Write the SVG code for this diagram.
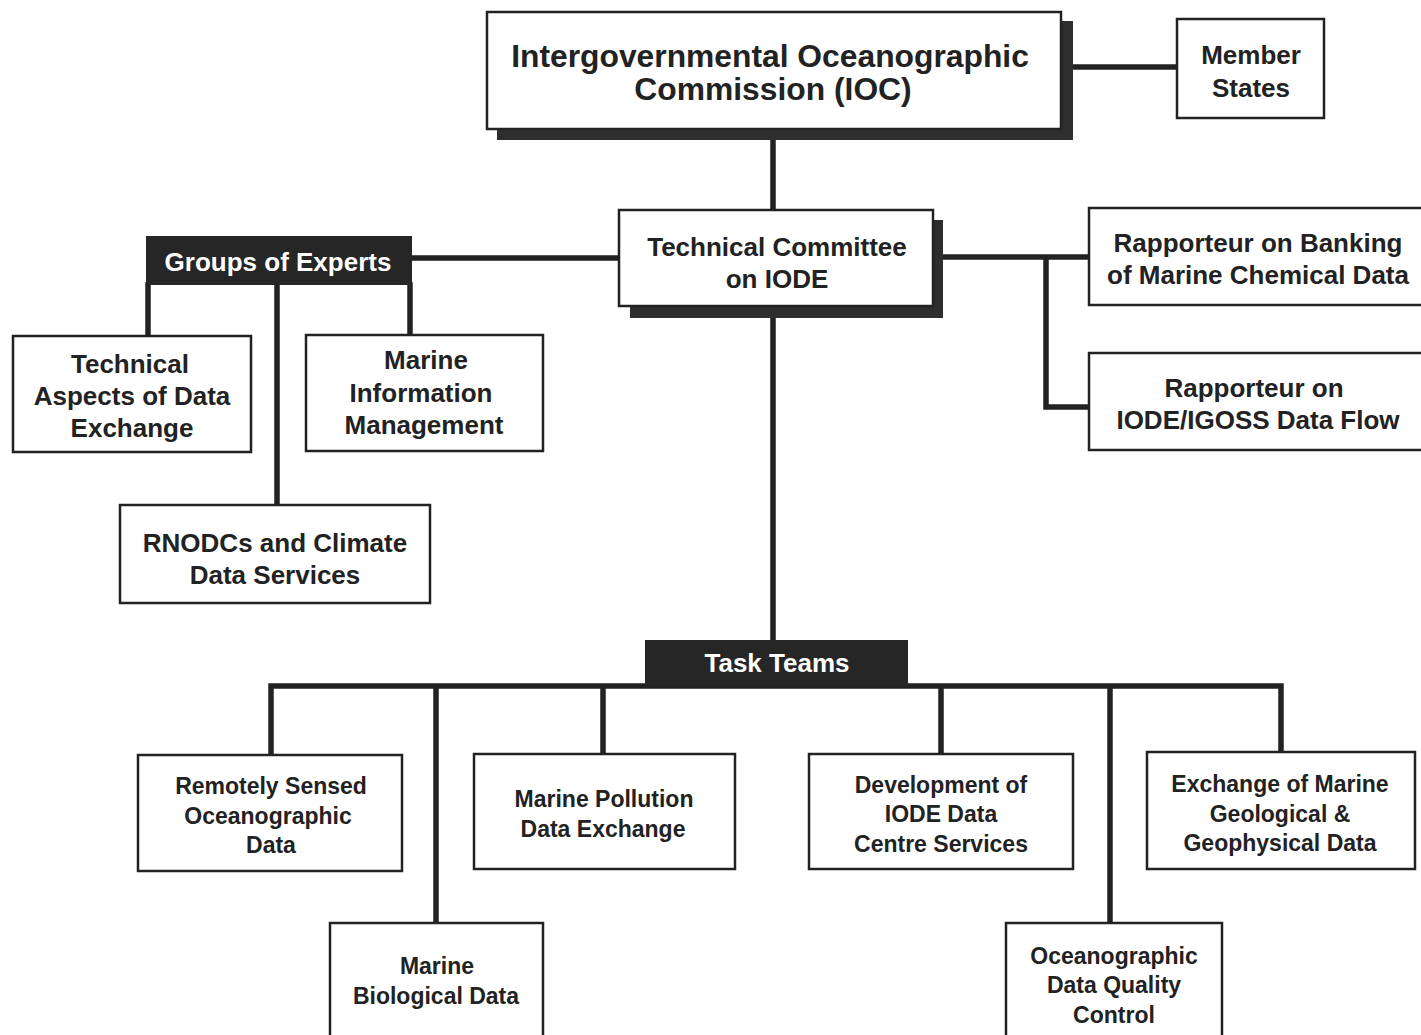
<svg xmlns="http://www.w3.org/2000/svg" width="1421" height="1035" viewBox="0 0 1421 1035">
<style>
.box{fill:#fff;stroke:#222;stroke-width:2.5}
.shadow{fill:#2e2e2e}
.dark{fill:#262626}
.conn{stroke:#222;stroke-width:5.5;fill:none;stroke-linejoin:miter;stroke-linecap:square}
text{font-family:"Liberation Sans",Arial,Helvetica,sans-serif;font-weight:bold;fill:#222;text-anchor:middle}
.t31{font-size:31.8px}
.t26{font-size:26px}
.t23{font-size:23px}
.w{fill:#fff}
</style>
<rect width="1421" height="1035" fill="#fff"/>
<g id="connectors">
<path class="conn" d="M773 140 V210"/>
<path class="conn" d="M1073 67 H1177"/>
<path class="conn" d="M412 258 H619"/>
<path class="conn" d="M943 257 H1089 M1046 257 V407 H1089"/>
<path class="conn" d="M148 285 V336 M277 285 V505 M410 285 V335"/>
<path class="conn" d="M773 318 V640"/>
<path class="conn" d="M271 755 V686 H1281 V752 M436 686 V923 M603 686 V754 M941 686 V754 M1110 686 V923"/>
</g>
<g id="ioc">
<rect class="shadow" x="497" y="21" width="576" height="119"/>
<rect class="box" x="487" y="12" width="574" height="117"/>
<text class="t31" x="770" y="67">Intergovernmental Oceanographic</text>
<text class="t31" x="773" y="100">Commission (IOC)</text>
</g>
<g id="member-states">
<rect class="box" x="1177" y="19" width="147" height="99"/>
<text class="t26" x="1251" y="64">Member</text>
<text class="t26" x="1251" y="97">States</text>
</g>
<g id="tc-iode">
<rect class="shadow" x="630" y="220" width="313" height="98"/>
<rect class="box" x="619" y="210" width="314" height="96"/>
<text class="t26" x="777" y="256">Technical Committee</text>
<text class="t26" x="777" y="288">on IODE</text>
</g>
<g id="groups-of-experts">
<rect class="dark" x="146" y="236" width="266" height="49"/>
<text class="t26 w" x="278" y="271">Groups of Experts</text>
</g>
<g id="technical-aspects">
<rect class="box" x="13" y="336" width="238" height="116"/>
<text class="t26" x="130" y="373">Technical</text>
<text class="t26" x="132" y="405">Aspects of Data</text>
<text class="t26" x="132" y="437">Exchange</text>
</g>
<g id="marine-information">
<rect class="box" x="306" y="335" width="237" height="116"/>
<text class="t26" x="426" y="369">Marine</text>
<text class="t26" x="421" y="402">Information</text>
<text class="t26" x="424" y="434">Management</text>
</g>
<g id="rnodcs">
<rect class="box" x="120" y="505" width="310" height="98"/>
<text class="t26" x="275" y="552">RNODCs and Climate</text>
<text class="t26" x="275" y="584">Data Services</text>
</g>
<g id="rapporteur-banking">
<rect class="box" x="1089" y="208" width="340" height="97"/>
<text class="t26" x="1258" y="252">Rapporteur on Banking</text>
<text class="t26" x="1258" y="284">of Marine Chemical Data</text>
</g>
<g id="rapporteur-igoss">
<rect class="box" x="1089" y="353" width="340" height="97"/>
<text class="t26" x="1254" y="397">Rapporteur on</text>
<text class="t26" x="1258" y="429">IODE/IGOSS Data Flow</text>
</g>
<g id="task-teams">
<rect class="dark" x="645" y="640" width="263" height="46"/>
<text class="t26 w" x="777" y="672">Task Teams</text>
</g>
<g id="remotely-sensed">
<rect class="box" x="138" y="755" width="264" height="116"/>
<text class="t23" x="271" y="794">Remotely Sensed</text>
<text class="t23" x="268" y="824">Oceanographic</text>
<text class="t23" x="271" y="853">Data</text>
</g>
<g id="marine-pollution">
<rect class="box" x="474" y="754" width="261" height="115"/>
<text class="t23" x="604" y="807">Marine Pollution</text>
<text class="t23" x="603" y="837">Data Exchange</text>
</g>
<g id="development">
<rect class="box" x="809" y="754" width="264" height="115"/>
<text class="t23" x="941" y="793">Development of</text>
<text class="t23" x="941" y="822">IODE Data</text>
<text class="t23" x="941" y="852">Centre Services</text>
</g>
<g id="exchange-geo">
<rect class="box" x="1147" y="752" width="268" height="117"/>
<text class="t23" x="1280" y="792">Exchange of Marine</text>
<text class="t23" x="1280" y="822">Geological &amp;</text>
<text class="t23" x="1280" y="851">Geophysical Data</text>
</g>
<g id="marine-biological">
<rect class="box" x="330" y="923" width="213" height="130"/>
<text class="t23" x="437" y="974">Marine</text>
<text class="t23" x="436" y="1004">Biological Data</text>
</g>
<g id="ocean-qc">
<rect class="box" x="1006" y="923" width="216" height="130"/>
<text class="t23" x="1114" y="964">Oceanographic</text>
<text class="t23" x="1114" y="993">Data Quality</text>
<text class="t23" x="1114" y="1023">Control</text>
</g>
</svg>
